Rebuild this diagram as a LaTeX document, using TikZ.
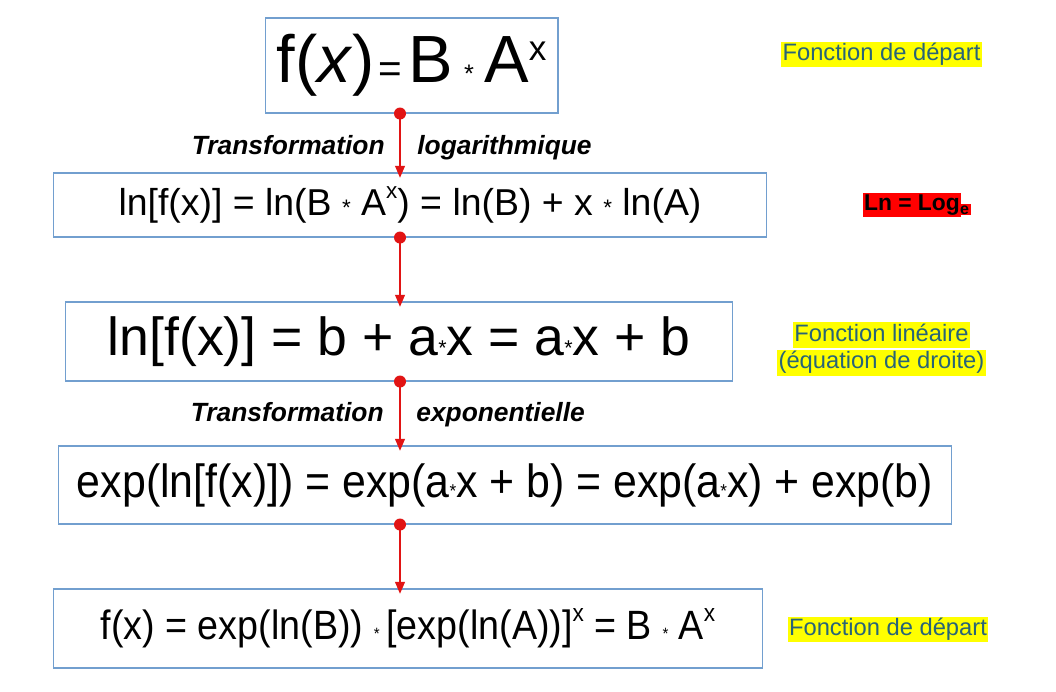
\documentclass[tikz,border=0pt]{standalone}
\usepackage{fontspec}
\setmainfont{Liberation Sans}
\newfontfamily\narrowsans[FakeStretch=0.92]{Liberation Sans}
\usepackage{graphicx}
\usetikzlibrary{arrows.meta,positioning,calc}
\definecolor{boxblue}{RGB}{114,159,207}
\definecolor{notecol}{RGB}{40,100,120}
\definecolor{hlyellow}{RGB}{255,255,0}
\definecolor{linkred}{RGB}{225,20,20}
\newcommand{\etoile}[1][0.45]{\scalebox{#1}{*}}
\newcommand{\expo}[1]{\raisebox{0.45em}{\scalebox{0.6}{#1}}}
\newcommand{\hl}[1]{{\fboxsep=0.8pt\colorbox{hlyellow}{\rule[-3.2pt]{0pt}{12.6pt}#1}}}

\begin{document}
\begin{tikzpicture}[x=0.02cm,y=-0.02cm,
formulabox/.style={draw=boxblue,line width=.6pt,fill=white,inner sep=0pt,align=center},
note/.style={text=notecol,font=\fontsize{13.5}{15.5}\selectfont,inner sep=0pt,align=center},
steplabel/.style={font=\fontsize{15}{15}\selectfont\bfseries\itshape,inner sep=0pt},
arr/.style={draw=linkred,line width=.6pt,-{Triangle[length=2.4mm,width=2mm]}},
dot/.style={circle,fill=linkred,inner sep=0pt,minimum size=2.4mm}]
\fill[white] (0,0) rectangle (1056,691);
\useasboundingbox (0,0) rectangle (1056,691);
% formula boxes
\node[formulabox,minimum width=5.86cm,minimum height=1.9cm] (f0) at (411.5,65.5)
  {\fontsize{38}{38}\selectfont f(\textit{x})\hspace{2pt}{\fontsize{23}{23}\selectfont =}\hspace{4pt}B\hspace{6pt}\etoile[0.38]\hspace{6pt}A\raisebox{0.33em}{\fontsize{20}{20}\selectfont x}};
\node[formulabox,minimum width=14.28cm,minimum height=1.28cm] (f1) at (410,205)
  {\fontsize{21.3}{21.3}\selectfont ln[f(x)] = ln(B \etoile[0.6] A\expo{x}) = ln(B) + x \etoile[0.6] ln(A)};
\node[formulabox,minimum width=13.36cm,minimum height=1.58cm] (f2) at (399,341.5)
  {\fontsize{30.5}{30.5}\selectfont ln[f(x)] = b + a\etoile[0.4]x = a\etoile[0.4]x + b};
\node[formulabox,minimum width=17.88cm,minimum height=1.56cm] (f3) at (505,485)
  {\narrowsans\fontsize{26.5}{26.5}\selectfont exp(ln[f(x)]) = exp(a\etoile[0.4]x + b) = exp(a\etoile[0.4]x) + exp(b)};
\node[formulabox,minimum width=14.2cm,minimum height=1.58cm] (f4) at (408,628.5)
  {\narrowsans\fontsize{23.3}{23.3}\selectfont f(x) = exp(ln(B)) \etoile[0.4]\,[exp(ln(A))]\expo{x} = B \etoile[0.4] A\expo{x}};
% connectors
\coordinate (ax) at (400,0);
\foreach \a/\b in {f0/f1,f1/f2,f2/f3,f3/f4}{
  \draw[arr] (ax |- \a.south) -- ([yshift=-3pt]ax |- \b.north);
  \node[dot] (d\a) at (ax |- \a.south) {};
}
% step labels
\node[steplabel,anchor=base east] (t1) at (385,154) {Transformation};
\node[steplabel,anchor=base west] (t1b) at (417,154) {logarithmique};
\node[steplabel,anchor=base east] (t2) at (384,421) {Transformation};
\node[steplabel,anchor=base west] (t2b) at (416,421) {exponentielle};
% side notes
\node[note] (n0) at (881.5,54.5) {\hl{Fonction de départ}};
\node[note] (n2) at (881.5,349) {\hl{Fonction linéaire}\\\hl{(équation de droite)}};
\node[note] (n4) at (888,629.5) {\hl{Fonction de départ}};
\node[inner sep=0pt,font=\fontsize{13}{13}\selectfont\bfseries] (lnnote) at (917,205)
  {\fboxsep=0.6pt\colorbox{red}{\rule[-2.6pt]{0pt}{12pt}Ln = Log}\hspace{-1pt}\colorbox{red}{\textsubscript{e}}};
\end{tikzpicture}
\end{document}
